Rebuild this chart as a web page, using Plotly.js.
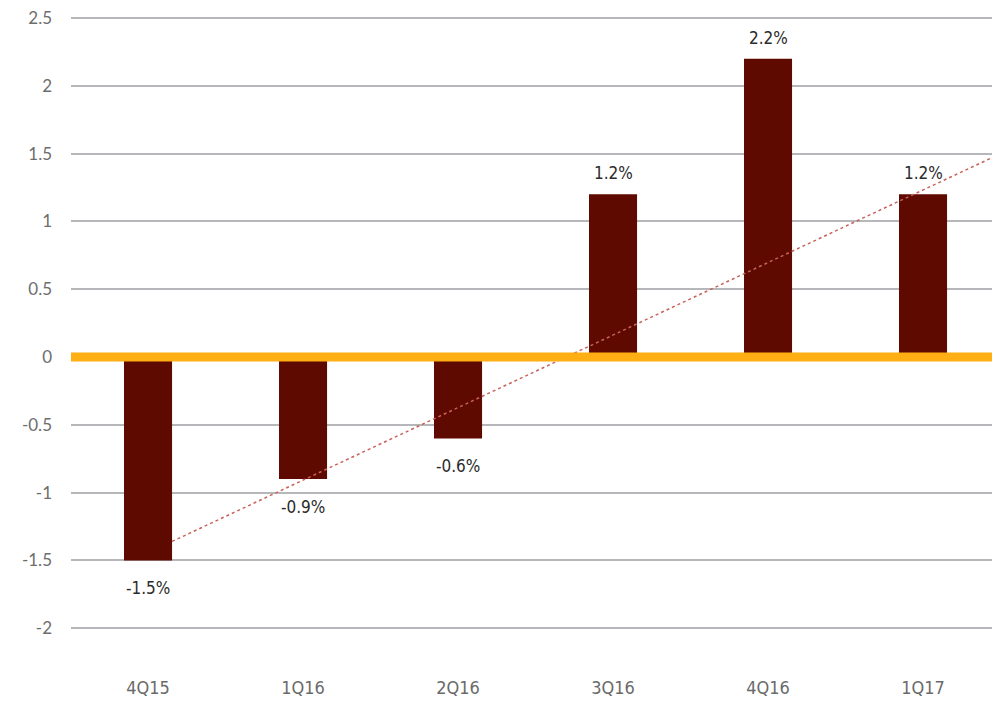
<!DOCTYPE html>
<html>
<head>
<meta charset="utf-8">
<script src="https://cdn.plot.ly/plotly-3.0.1.min.js"></script>
<style>html,body{margin:0;padding:0;background:#fff;}#chart{width:992px;height:704px;}</style>
</head>
<body>
<div id="chart"></div>
<script>
// Data
var categories = ["4Q15", "1Q16", "2Q16", "3Q16", "4Q16", "1Q17"];
var growth = [-1.5, -0.9, -0.6, 1.2, 2.2, 1.2];
var labels = ["-1.5%", "-0.9%", "-0.6%", "1.2%", "2.2%", "1.2%"];
var trendX = [0.155, 5.445];
var trendY = [-1.36, 1.47];
var yTicks = [-2, -1.5, -1, -0.5, 0, 0.5, 1, 1.5, 2, 2.5];

var xPos = categories.map(function (c, i) { return i; });
var condensed = "'DejaVu Sans Condensed', 'Liberation Sans Narrow', Roboto, sans-serif";

var bars = {
  type: "bar",
  x: xPos,
  y: growth,
  width: 0.31,
  marker: { color: "#5e0a00" },
  hoverinfo: "skip",
  showlegend: false
};

var trend = {
  type: "scatter",
  mode: "lines",
  x: trendX,
  y: trendY,
  line: { color: "#c8625a", width: 1.5, dash: "dot" },
  hoverinfo: "skip",
  showlegend: false
};

var annotations = growth.map(function (v, i) {
  return {
    x: xPos[i],
    y: v,
    xref: "x",
    yref: "y",
    text: labels[i],
    showarrow: false,
    yanchor: "middle",
    yshift: v < 0 ? -28 : 21,
    font: { family: condensed, size: 17, color: "#2b2b2b" }
  };
});

var layout = {
  width: 992,
  height: 704,
  margin: { l: 71, r: 0, t: 0, b: 29, pad: 0 },
  paper_bgcolor: "#ffffff",
  plot_bgcolor: "#ffffff",
  showlegend: false,
  xaxis: {
    type: "linear",
    range: [-0.497, 5.445],
    tickvals: xPos,
    ticktext: categories,
    showgrid: false,
    zeroline: false,
    showline: false,
    ticks: "",
    tickfont: { family: condensed, size: 18, color: "#6a6a6a" },
    fixedrange: true
  },
  yaxis: {
    range: [-2.345, 2.633],
    tickvals: yTicks,
    ticktext: yTicks.map(function (t) { return String(t); }),
    showgrid: true,
    gridcolor: "#b5b7bb",
    gridwidth: 2,
    zeroline: false,
    showline: false,
    ticks: "",
    ticklabelstandoff: 18,
    tickfont: { family: "Lato, 'Open Sans', sans-serif", size: 17, color: "#6d6d6d" },
    fixedrange: true
  },
  shapes: [{
    type: "line",
    xref: "paper",
    yref: "y",
    x0: 0, x1: 1,
    y0: 0, y1: 0,
    layer: "above",
    line: { color: "#ffae14", width: 9 }
  }],
  annotations: annotations
};

Plotly.newPlot("chart", [bars, trend], layout, { displayModeBar: false, staticPlot: true });
</script>
</body>
</html>
